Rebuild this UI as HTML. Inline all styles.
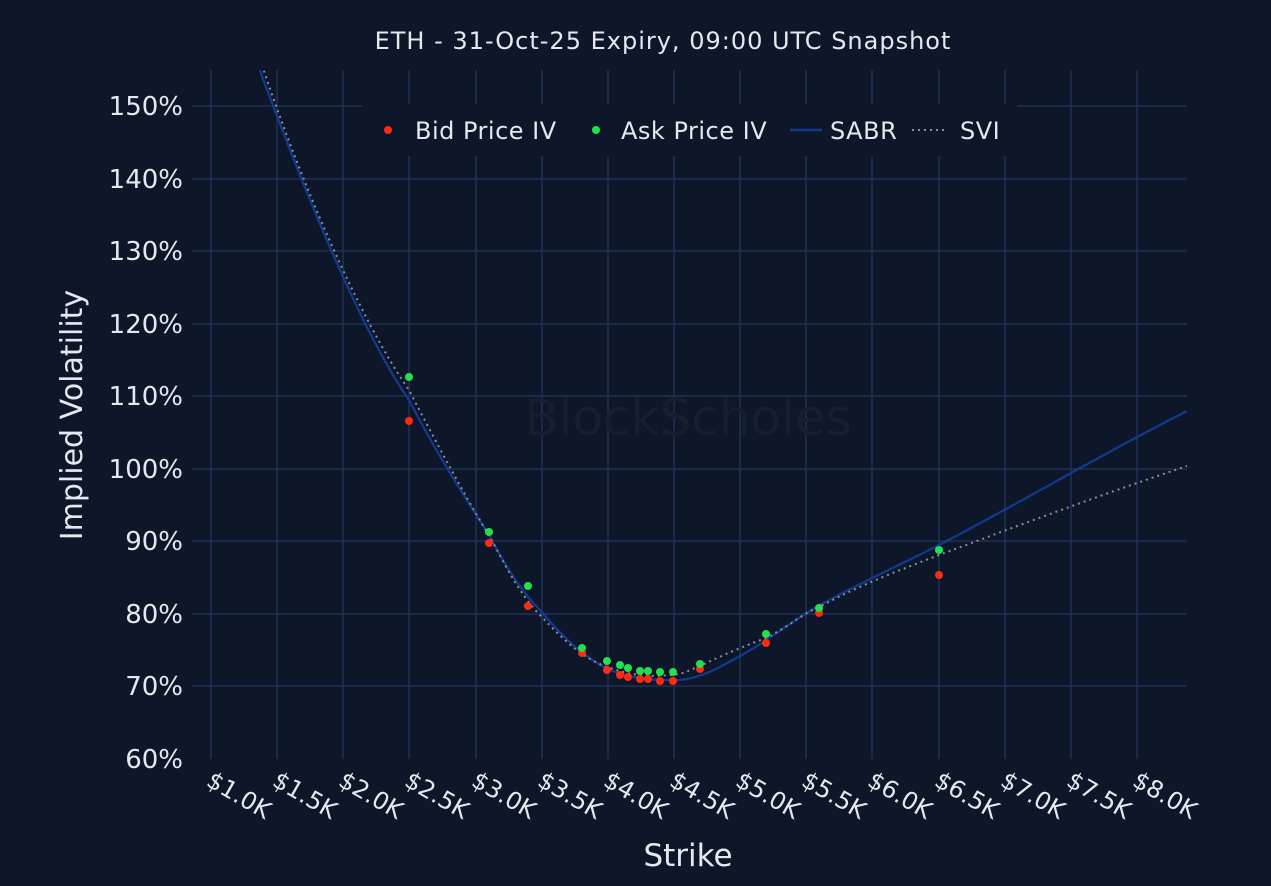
<!DOCTYPE html>
<html><head><meta charset="utf-8"><style>
html,body{margin:0;padding:0;background:#0e1729;}
svg{display:block;font-family:"DejaVu Sans","Liberation Sans",sans-serif;}
</style></head><body>
<svg width="1271" height="886" viewBox="0 0 1271 886">
<rect width="1271" height="886" fill="#0e1729"/>
<g stroke="#1e3157" stroke-width="1.5">
<line x1="211" y1="70" x2="211" y2="759"/><line x1="277" y1="70" x2="277" y2="759"/><line x1="343" y1="70" x2="343" y2="759"/><line x1="409" y1="70" x2="409" y2="759"/><line x1="476" y1="70" x2="476" y2="759"/><line x1="542" y1="70" x2="542" y2="759"/><line x1="608" y1="70" x2="608" y2="759"/><line x1="674" y1="70" x2="674" y2="759"/><line x1="740" y1="70" x2="740" y2="759"/><line x1="806" y1="70" x2="806" y2="759"/><line x1="872" y1="70" x2="872" y2="759"/><line x1="939" y1="70" x2="939" y2="759"/><line x1="1005" y1="70" x2="1005" y2="759"/><line x1="1071" y1="70" x2="1071" y2="759"/><line x1="1137" y1="70" x2="1137" y2="759"/>
<line x1="192" y1="106" x2="1187" y2="106"/><line x1="192" y1="179" x2="1187" y2="179"/><line x1="192" y1="251" x2="1187" y2="251"/><line x1="192" y1="324" x2="1187" y2="324"/><line x1="192" y1="396" x2="1187" y2="396"/><line x1="192" y1="469" x2="1187" y2="469"/><line x1="192" y1="541" x2="1187" y2="541"/><line x1="192" y1="614" x2="1187" y2="614"/><line x1="192" y1="686" x2="1187" y2="686"/>
</g>
<text x="688" y="435" font-size="50" fill="#161f30" text-anchor="middle">BlockScholes</text>
<text x="663" y="49" font-size="24" letter-spacing="1" fill="#e6e8ee" text-anchor="middle">ETH - 31-Oct-25 Expiry, 09:00 UTC Snapshot</text>
<g font-size="26" fill="#e6e8ee" text-anchor="end">
<text x="183" y="115">150%</text><text x="183" y="188">140%</text><text x="183" y="260">130%</text><text x="183" y="333">120%</text><text x="183" y="405">110%</text><text x="183" y="478">100%</text><text x="183" y="550">90%</text><text x="183" y="623">80%</text><text x="183" y="695">70%</text><text x="183" y="768">60%</text>
</g>
<g font-size="24" fill="#e6e8ee">
<text transform="translate(205,785) rotate(30)">$1.0K</text><text transform="translate(271,785) rotate(30)">$1.5K</text><text transform="translate(337,785) rotate(30)">$2.0K</text><text transform="translate(403,785) rotate(30)">$2.5K</text><text transform="translate(470,785) rotate(30)">$3.0K</text><text transform="translate(536,785) rotate(30)">$3.5K</text><text transform="translate(602,785) rotate(30)">$4.0K</text><text transform="translate(668,785) rotate(30)">$4.5K</text><text transform="translate(734,785) rotate(30)">$5.0K</text><text transform="translate(800,785) rotate(30)">$5.5K</text><text transform="translate(866,785) rotate(30)">$6.0K</text><text transform="translate(933,785) rotate(30)">$6.5K</text><text transform="translate(999,785) rotate(30)">$7.0K</text><text transform="translate(1065,785) rotate(30)">$7.5K</text><text transform="translate(1131,785) rotate(30)">$8.0K</text>
</g>
<text x="688" y="866" font-size="31" fill="#e6e8ee" text-anchor="middle">Strike</text>
<text transform="translate(82,415) rotate(-90)" font-size="30" fill="#e6e8ee" text-anchor="middle">Implied Volatility</text>
<defs><clipPath id="c"><rect x="192" y="70" width="995" height="690"/></clipPath></defs>
<g clip-path="url(#c)">
<path d="M258,65 C300,180 360,330 409,400 C440,460 470,505 489,535 C505,565 520,590 540,610 C565,640 585,658 610,670 C630,678 650,681 680,680 C700,678 715,670 740,656 C770,640 790,622 820,605 C860,583 900,565 939,545 C1020,503 1100,455 1187,411" fill="none" stroke="#103b90" stroke-width="2.2"/>
<path d="M262,65 C300,180 360,320 409,390 C440,450 470,505 489,535 C505,565 520,595 540,615 C565,642 585,660 610,668 C630,675 650,678 680,674 C700,667 720,655 766,638 C790,626 800,615 819,607 C860,585 900,570 939,555 C1020,525 1100,495 1187,466" fill="none" stroke="#8a8f99" stroke-width="2" stroke-dasharray="2,4"/>
</g>
<g fill="#ff2a10">
<circle cx="409" cy="421" r="4"/><circle cx="489" cy="543" r="4"/><circle cx="528" cy="606" r="4"/><circle cx="582" cy="653" r="4"/><circle cx="607" cy="670" r="4"/><circle cx="620" cy="675" r="4"/><circle cx="628" cy="677" r="4"/><circle cx="640" cy="679" r="4"/><circle cx="648" cy="679" r="4"/><circle cx="660" cy="681" r="4"/><circle cx="673" cy="681" r="4"/><circle cx="700" cy="669" r="4"/><circle cx="766" cy="643" r="4"/><circle cx="819" cy="613" r="4"/><circle cx="939" cy="575" r="4"/>
</g>
<g fill="#22e050">
<circle cx="409" cy="377" r="4"/><circle cx="489" cy="532" r="4"/><circle cx="528" cy="586" r="4"/><circle cx="582" cy="648" r="4"/><circle cx="607" cy="661" r="4"/><circle cx="620" cy="665" r="4"/><circle cx="628" cy="668" r="4"/><circle cx="640" cy="671" r="4"/><circle cx="648" cy="671" r="4"/><circle cx="660" cy="672" r="4"/><circle cx="673" cy="672" r="4"/><circle cx="700" cy="664" r="4"/><circle cx="766" cy="634" r="4"/><circle cx="819" cy="608" r="4"/><circle cx="939" cy="550" r="4"/>
</g>
<rect x="362" y="104" width="655" height="52" fill="#0e1729"/>
<g font-size="24" letter-spacing="0.5" fill="#e6e8ee">
<circle cx="388" cy="130" r="4" fill="#ff2a10"/>
<text x="415" y="139">Bid Price IV</text>
<circle cx="596" cy="130" r="4" fill="#22e050"/>
<text x="621" y="139">Ask Price IV</text>
<line x1="790" y1="130" x2="822" y2="130" stroke="#103b90" stroke-width="2.5"/>
<text x="830" y="139">SABR</text>
<line x1="912" y1="130" x2="946" y2="130" stroke="#8a8f99" stroke-width="2" stroke-dasharray="2,4"/>
<text x="960" y="139">SVI</text>
</g>
</svg>
</body></html>
